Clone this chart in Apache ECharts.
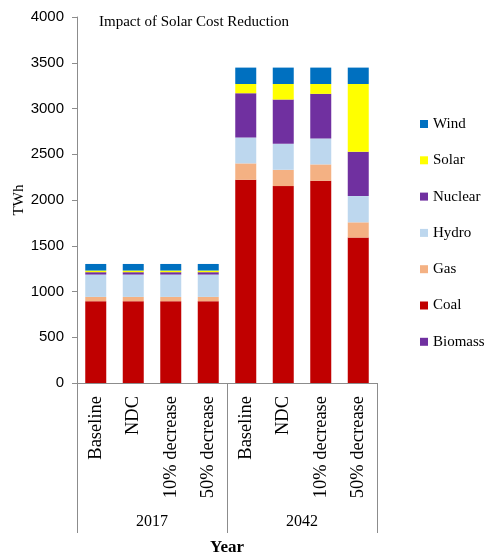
<!DOCTYPE html>
<html>
<head>
<meta charset="utf-8">
<script src="https://cdn.jsdelivr.net/npm/echarts@6/dist/echarts.min.js"></script>
<style>
  html, body { margin: 0; padding: 0; background: #fff; }
  #chart { width: 485px; height: 559px; }
</style>
</head>
<body>
<div id="chart"></div>
<script>
// Scenario categories, grouped by year
const scenarios = ['Baseline', 'NDC', '10% decrease', '50% decrease',
                   'Baseline', 'NDC', '10% decrease', '50% decrease'];
const years = ['2017', '2042'];

// Generation by source, TWh (bottom of the stack first)
const biomass = [0, 0, 0, 0, 0, 0, 0, 0];
const coal    = [894, 894, 894, 894, 2221, 2152, 2210, 1589];
const gas     = [47, 47, 47, 47, 179, 178, 179, 167];
const hydro   = [244, 244, 244, 244, 284, 284, 284, 287];
const nuclear = [26, 26, 26, 26, 483, 484, 487, 484];
const solar   = [18, 18, 18, 18, 101, 170, 108, 741];
const wind    = [72, 72, 72, 72, 179, 179, 179, 179];

const yTicks = { min: 0, max: 4000, interval: 500 };

const serif = '"Liberation Serif", "Times New Roman", serif';
const sans = '"Liberation Sans", Arial, sans-serif';

const stackDefs = [
  { name: 'Biomass', data: biomass, color: '#7030A0' },
  { name: 'Coal',    data: coal,    color: '#C00000' },
  { name: 'Gas',     data: gas,     color: '#F4B183' },
  { name: 'Hydro',   data: hydro,   color: '#BDD7EE' },
  { name: 'Nuclear', data: nuclear, color: '#7030A0' },
  { name: 'Solar',   data: solar,   color: '#FFFF00' },
  { name: 'Wind',    data: wind,    color: '#0070C0' }
];

const chart = echarts.init(document.getElementById('chart'), null, { renderer: 'canvas' });

chart.setOption({
  animation: false,
  backgroundColor: '#ffffff',
  title: {
    text: 'Impact of Solar Cost Reduction',
    left: 99,
    top: 15,
    padding: 0,
    textStyle: { fontFamily: serif, fontSize: 15, fontWeight: 'normal', color: '#000' }
  },
  legend: {
    orient: 'vertical',
    left: 420,
    top: 116,
    padding: 0,
    itemWidth: 8,
    itemHeight: 8,
    itemGap: 20.3,
    icon: 'rect',
    data: ['Wind', 'Solar', 'Nuclear', 'Hydro', 'Gas', 'Coal', 'Biomass'],
    textStyle: { fontFamily: serif, fontSize: 15, color: '#000', lineHeight: 16 }
  },
  grid: { left: 77, right: 108, top: 17, bottom: 176, outerBoundsMode: 'none', containLabel: false },
  xAxis: [
    {
      type: 'category',
      data: scenarios,
      position: 'bottom',
      axisLine: { show: true, lineStyle: { color: '#8c8c8c', width: 1 } },
      axisTick: { show: false },
      axisLabel: {
        rotate: 90,
        margin: 13,
        interval: 0,
        fontFamily: serif,
        fontSize: 18.5,
        color: '#000'
      }
    },
    {
      type: 'category',
      data: years,
      position: 'bottom',
      axisLine: { show: false },
      axisTick: { show: true, length: 150, lineStyle: { color: '#8c8c8c', width: 1 } },
      axisLabel: { margin: 131, fontFamily: serif, fontSize: 16, color: '#000' },
      name: 'Year',
      nameLocation: 'middle',
      nameGap: 156,
      nameMoveOverlap: false,
      nameTextStyle: { fontFamily: serif, fontSize: 17, fontWeight: 'bold', color: '#000' }
    }
  ],
  yAxis: {
    type: 'value',
    min: yTicks.min,
    max: yTicks.max,
    interval: yTicks.interval,
    name: 'TWh',
    nameLocation: 'middle',
    nameGap: 50,
    nameMoveOverlap: false,
    nameTextStyle: { fontFamily: serif, fontSize: 15, color: '#000' },
    axisLine: { show: true, lineStyle: { color: '#8c8c8c', width: 1 } },
    axisTick: { show: true, length: 5, lineStyle: { color: '#8c8c8c' } },
    splitLine: { show: false },
    axisLabel: { fontFamily: sans, fontSize: 15, color: '#000', margin: 13, formatter: v => String(v) }
  },
  series: stackDefs.map(s => ({
    name: s.name,
    type: 'bar',
    stack: 'total',
    xAxisIndex: 0,
    barCategoryGap: '44%',
    data: s.data,
    itemStyle: { color: s.color }
  }))
});
</script>
</body>
</html>
